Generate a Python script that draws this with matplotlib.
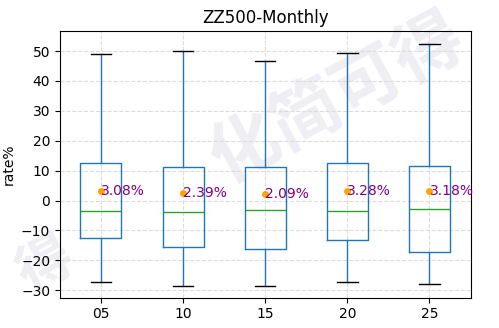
import matplotlib
matplotlib.use("Agg")
import matplotlib.pyplot as plt

# 每组月度收益率的箱线统计（%）
labels = ["05", "10", "15", "20", "25"]
whis_hi = [48.9, 50.0, 46.7, 49.2, 52.4]
q3 = [12.6, 11.1, 11.1, 12.6, 11.5]
median = [-3.5, -3.9, -3.3, -3.6, -2.8]
q1 = [-12.6, -15.6, -16.3, -13.3, -17.1]
whis_lo = [-27.4, -28.6, -28.6, -27.4, -27.8]
means = [3.08, 2.39, 2.09, 3.28, 3.18]

stats = []
for i, lab in enumerate(labels):
    stats.append({
        "label": lab, "med": median[i], "q1": q1[i], "q3": q3[i],
        "whislo": whis_lo[i], "whishi": whis_hi[i], "mean": means[i],
        "fliers": [],
    })

fig = plt.figure(figsize=(4.99, 3.28), dpi=100)
ax = fig.add_axes([0.12, 0.0924, 0.823, 0.8131])
ax.patch.set_alpha(0)

# 水印
wm = dict(fontweight="bold", color="#eeeef3", rotation=28.5,
          family=["Noto Sans CJK SC", "DejaVu Sans"], ha="center", va="center",
          zorder=-5, rotation_mode="anchor")
fig.text(338 / 499, 1 - 100 / 328, "化简可得", fontsize=50, **wm)
fig.text(46 / 499, 1 - 266 / 328, "得", fontsize=40, **wm)

positions = list(range(1, len(labels) + 1))
ax.bxp(stats, positions=positions, widths=0.5, showfliers=False,
       boxprops=dict(color="#1f77b4"), whiskerprops=dict(color="#1f77b4"),
       capprops=dict(color="black"), medianprops=dict(color="#2ca02c"))

for p, m in zip(positions, means):
    ax.plot(p, m, "o", color="orange", markersize=4, zorder=4)
    ax.text(p, m, f"{m:.2f}%", color="purple", fontsize=10,
            ha="left", va="center", zorder=5)

ax.set_xticks(positions)
ax.set_xticklabels(labels)
ax.set_xlim(0.5, 5.5)
ax.set_ylim(-32.5, 56.7)
ax.set_yticks(range(-30, 51, 10))
ax.grid(True, linestyle="--", color="#dcdcdc", linewidth=0.8)
ax.set_axisbelow(True)
ax.set_ylabel("rate%")
ax.set_title("ZZ500-Monthly")

fig.savefig("out.png", dpi=100)
